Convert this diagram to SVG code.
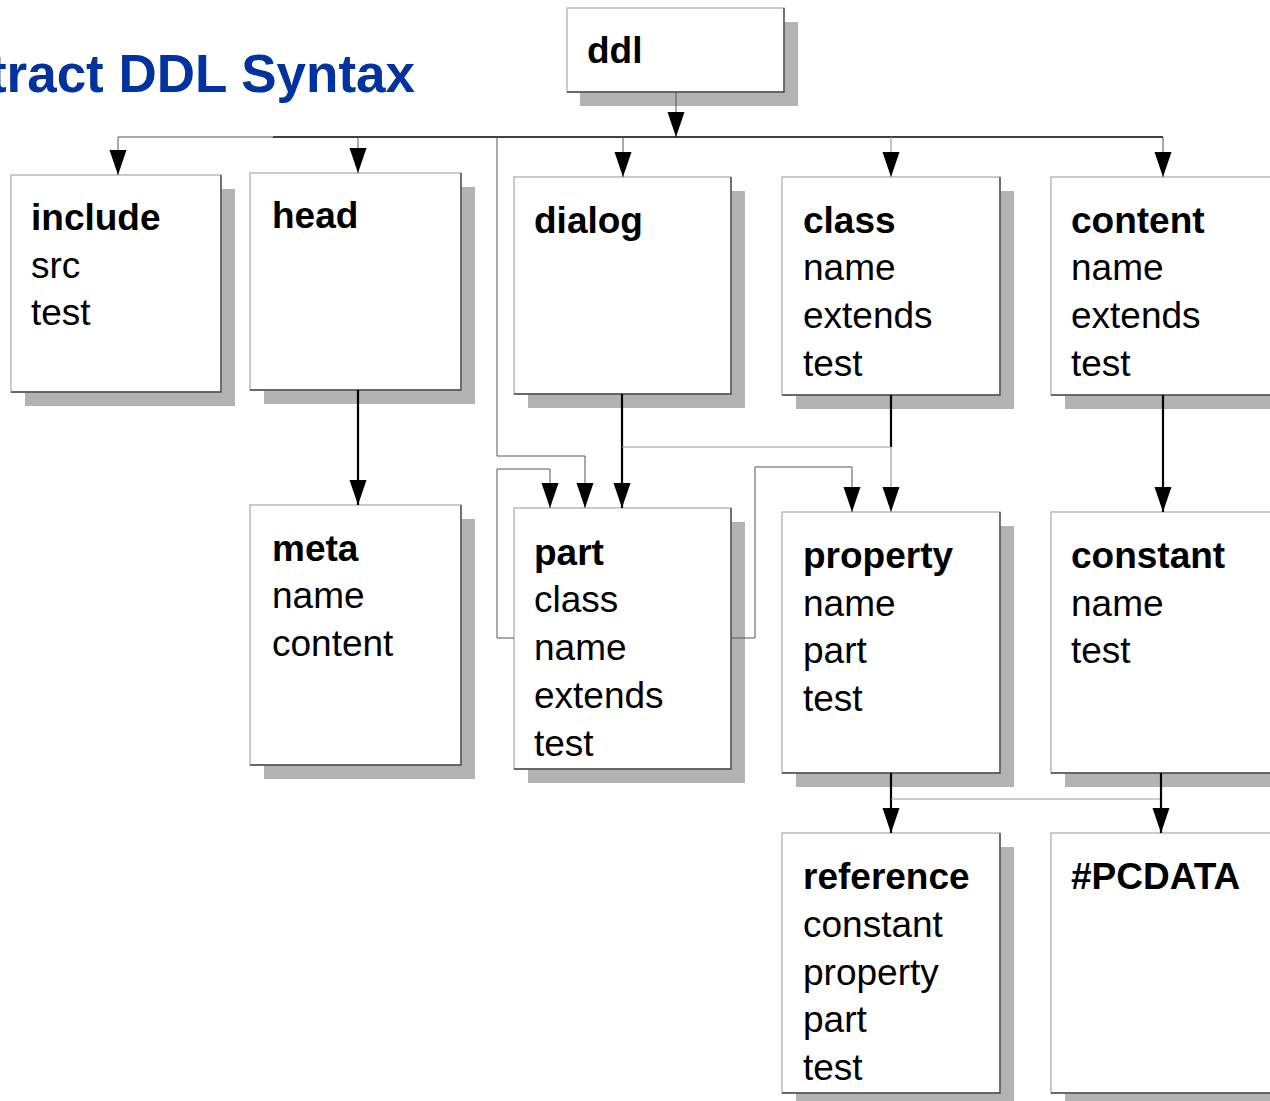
<svg xmlns="http://www.w3.org/2000/svg" width="1270" height="1101" viewBox="0 0 1270 1101">
  <style>
    .shadow { fill: #b3b3b3; }
    .box { fill: #ffffff; stroke: #a8a8a8; stroke-width: 1.2; }
    .edge { fill: none; stroke: #4a4a4a; stroke-width: 1.4; }
    text { font-family: "Liberation Sans", Arial, Helvetica, sans-serif; font-size: 37px; fill: #000; }
    .name { font-weight: bold; }
    .title { font-size: 53px; font-weight: bold; fill: #0033a0; }
    .thin { fill: none; stroke: #555; stroke-width: 1; }
    .faint { fill: none; stroke: #9a9a9a; stroke-width: 1.2; }
    .bus { fill: none; stroke: #000; stroke-width: 1.5; }
    .thick { fill: none; stroke: #000; stroke-width: 2.2; }
  </style>
  <defs>
    <marker id="arrow" markerUnits="userSpaceOnUse" viewBox="0 -9 25 18" refX="25" refY="0" markerWidth="25" markerHeight="18" orient="auto" overflow="visible">
      <path d="M0,-8.5 L25,0 L0,8.5 Z" fill="#000"/>
    </marker>
  </defs>
  <rect width="1270" height="1101" fill="#ffffff"/>

  <text class="title" x="415" y="92" text-anchor="end">tract DDL Syntax</text>

  <g id="node-ddl">
    <rect class="shadow" x="580" y="22" width="218" height="84"/>
    <rect class="box" x="567" y="8" width="217" height="84"/>
    <path class="edge" d="M784,8 V92 H567"/>
    <text class="name" x="587" y="63">ddl</text>
  </g>

  <g id="node-include">
    <rect class="shadow" x="25" y="189" width="210" height="217"/>
    <rect class="box" x="11" y="175" width="210" height="217"/>
    <path class="edge" d="M221,175 V392 H11"/>
    <text class="name" x="31" y="230">include</text>
    <text x="31" y="278">src</text>
    <text x="31" y="325">test</text>
  </g>

  <g id="node-head">
    <rect class="shadow" x="264" y="187" width="211" height="217"/>
    <rect class="box" x="250" y="173" width="211" height="217"/>
    <path class="edge" d="M461,173 V390 H250"/>
    <text class="name" x="272" y="228">head</text>
  </g>

  <g id="node-dialog">
    <rect class="shadow" x="528" y="191" width="217" height="217"/>
    <rect class="box" x="514" y="177" width="217" height="217"/>
    <path class="edge" d="M731,177 V394 H514"/>
    <text class="name" x="534" y="233">dialog</text>
  </g>

  <g id="node-class">
    <rect class="shadow" x="796" y="191" width="218" height="218"/>
    <rect class="box" x="782" y="177" width="218" height="218"/>
    <path class="edge" d="M1000,177 V395 H782"/>
    <text class="name" x="803" y="233">class</text>
    <text x="803" y="280">name</text>
    <text x="803" y="328">extends</text>
    <text x="803" y="376">test</text>
  </g>

  <g id="node-content">
    <rect class="shadow" x="1065" y="191" width="230" height="218"/>
    <rect class="box" x="1051" y="177" width="230" height="218"/>
    <path class="edge" d="M1281,395 H1051"/>
    <text class="name" x="1071" y="233">content</text>
    <text x="1071" y="280">name</text>
    <text x="1071" y="328">extends</text>
    <text x="1071" y="376">test</text>
  </g>

  <g id="node-meta">
    <rect class="shadow" x="264" y="519" width="211" height="260"/>
    <rect class="box" x="250" y="505" width="211" height="260"/>
    <path class="edge" d="M461,505 V765 H250"/>
    <text class="name" x="272" y="561">meta</text>
    <text x="272" y="608">name</text>
    <text x="272" y="656">content</text>
  </g>

  <g id="node-part">
    <rect class="shadow" x="528" y="522" width="217" height="261"/>
    <rect class="box" x="514" y="508" width="217" height="261"/>
    <path class="edge" d="M731,508 V769 H514"/>
    <text class="name" x="534" y="565">part</text>
    <text x="534" y="612">class</text>
    <text x="534" y="660">name</text>
    <text x="534" y="708">extends</text>
    <text x="534" y="756">test</text>
  </g>

  <g id="node-property">
    <rect class="shadow" x="796" y="526" width="218" height="261"/>
    <rect class="box" x="782" y="512" width="218" height="261"/>
    <path class="edge" d="M1000,512 V773 H782"/>
    <text class="name" x="803" y="568">property</text>
    <text x="803" y="616">name</text>
    <text x="803" y="663">part</text>
    <text x="803" y="711">test</text>
  </g>

  <g id="node-constant">
    <rect class="shadow" x="1065" y="526" width="230" height="261"/>
    <rect class="box" x="1051" y="512" width="230" height="261"/>
    <path class="edge" d="M1281,773 H1051"/>
    <text class="name" x="1071" y="568">constant</text>
    <text x="1071" y="616">name</text>
    <text x="1071" y="663">test</text>
  </g>

  <g id="node-reference">
    <rect class="shadow" x="796" y="847" width="218" height="260"/>
    <rect class="box" x="782" y="833" width="218" height="260"/>
    <path class="edge" d="M1000,833 V1093 H782"/>
    <text class="name" x="803" y="889">reference</text>
    <text x="803" y="937">constant</text>
    <text x="803" y="985">property</text>
    <text x="803" y="1032">part</text>
    <text x="803" y="1080">test</text>
  </g>

  <g id="node-pcdata">
    <rect class="shadow" x="1065" y="847" width="230" height="260"/>
    <rect class="box" x="1051" y="833" width="230" height="260"/>
    <path class="edge" d="M1281,1093 H1051"/>
    <text class="name" x="1071" y="889">#PCDATA</text>
  </g>

  <!-- connectors, drawn over the box shadows -->
  <g id="connectors">
    <path class="thin" d="M676,92 V137" marker-end="url(#arrow)"/>
    <path class="thin" d="M118,137 H273"/>
    <path class="bus" d="M273,137 H1163"/>
    <path class="thin" d="M118,137 V175" marker-end="url(#arrow)"/>
    <path class="thin" d="M358,137 V173" marker-end="url(#arrow)"/>
    <path class="thin" d="M623,137 V177" marker-end="url(#arrow)"/>
    <path class="faint" d="M891,137 V177" marker-end="url(#arrow)"/>
    <path class="thin" d="M1163,137 V177" marker-end="url(#arrow)"/>
    <path class="thin" d="M497,137 V456 H585 V508" marker-end="url(#arrow)"/>
    <path class="thin" d="M514,638 H497 V469 H550 V508" marker-end="url(#arrow)"/>
    <path class="thin" d="M731,638 H755 V467 H852 V512" marker-end="url(#arrow)"/>
    <path class="thick" d="M358,390 V505" marker-end="url(#arrow)"/>
    <path class="thick" d="M622,394 V508" marker-end="url(#arrow)"/>
    <path class="thick" d="M891,395 V447"/>
    <path class="faint" d="M891,447 H622"/>
    <path class="faint" d="M891,447 V512" marker-end="url(#arrow)"/>
    <path class="thick" d="M1163,395 V512" marker-end="url(#arrow)"/>
    <path class="thick" d="M891,773 V833" marker-end="url(#arrow)"/>
    <path class="faint" d="M891,799 H1161 V810"/>
    <path class="thick" d="M1161,773 V833" marker-end="url(#arrow)"/>
  </g>
</svg>
